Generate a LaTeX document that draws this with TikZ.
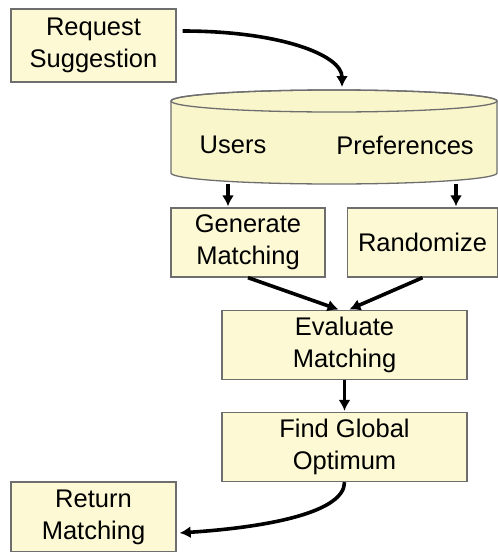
\documentclass[tikz,border=0pt]{standalone}
\usepackage{fontspec}
\setmainfont{Liberation Sans}
\usetikzlibrary{arrows.meta}

\definecolor{stagefill}{HTML}{FCF9D4}
\definecolor{storefill}{HTML}{FAF6CC}
\definecolor{stageline}{HTML}{6E6E6E}

\begin{document}
\begin{tikzpicture}[
      x=1pt, y=-1pt,
      >={Latex[length=11pt,width=12pt]},
      stage/.style={draw=stageline,line width=1.3pt,fill=stagefill,align=center,inner sep=0pt,
        font=\fontsize{25.5}{32}\selectfont},
      store text/.style={font=\fontsize{25.5}{32}\selectfont},
      flow/.style={->,line width=3.6pt,shorten >=1pt}
      ]
      \useasboundingbox (0,0) rectangle (498,552);
      % nodes
      % request
      \node [stage,minimum width=165pt,minimum height=73pt] (request) at (93.5,45.5) {Request\\Suggestion};
      % store
      \filldraw [draw=stageline,line width=1.3pt,fill=storefill] (171,101) -- (171,173)
        arc [start angle=180,end angle=360,x radius=163pt,y radius=11pt] -- (497,101)
        arc [start angle=0,end angle=180,x radius=163pt,y radius=11pt] -- cycle;
      \draw [stageline,line width=1.3pt] (334,101) ellipse [x radius=163pt,y radius=11pt];
      \node [store text] (users) at (233,145) {Users};
      \node [store text] (prefs) at (405,145) {Preferences};
      \coordinate (store top) at (342,88);
      \coordinate (users out) at (228,184);
      \coordinate (prefs out) at (456,184);
      % generate / randomize
      \node [stage,minimum width=154pt,minimum height=69pt] (generate) at (248,242.5) {Generate\\Matching};
      \node [stage,minimum width=150pt,minimum height=69pt] (randomize) at (422.5,242.5) {Randomize};
      % evaluate
      \node [stage,minimum width=245pt,minimum height=69pt] (evaluate) at (344.5,345) {Evaluate\\Matching};
      % optimum
      \node [stage,minimum width=245pt,minimum height=69pt] (optimum) at (344.5,447) {Find Global\\Optimum};
      % return
      \node [stage,minimum width=165pt,minimum height=70pt] (return) at (93.5,517) {Return\\Matching};
      % arcs
      \draw [flow] ([xshift=6pt,yshift=14.5pt]request.east) .. controls (280,31) and (342,55) .. (store top);
      \draw [flow] (users out) -- (users out |- generate.north);
      \draw [flow] (prefs out) -- (prefs out |- randomize.north);
      \draw [flow] (generate.south) -- ([xshift=-5pt]evaluate.north);
      \draw [flow] (randomize.south) -- ([xshift=4pt]evaluate.north);
      \draw [flow] (evaluate.south) -- (optimum.north);
      \draw [flow] (optimum.south) .. controls (344.5,512) and (270,527) .. ([xshift=2pt,yshift=-16pt]return.east);
    \end{tikzpicture}
\end{document}
